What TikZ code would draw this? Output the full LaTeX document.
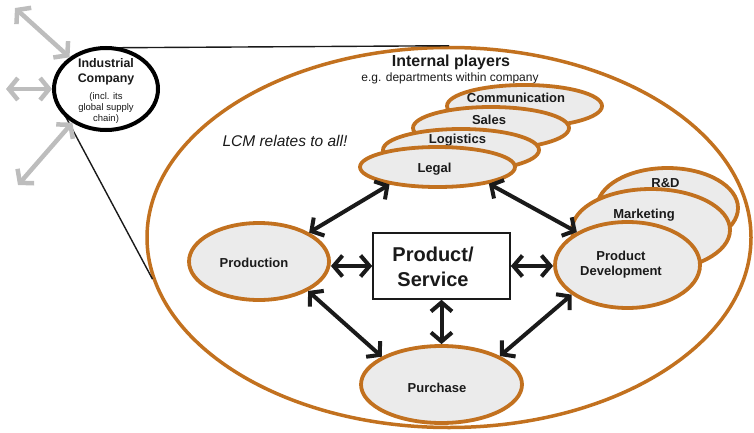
\documentclass[tikz,border=0pt]{standalone}
\usepackage{fontspec}
\setmainfont{Liberation Sans}
\usetikzlibrary{shapes.geometric,arrows.meta}
\definecolor{ora}{HTML}{C2711F}
\definecolor{lgray}{HTML}{EBEBEB}
\definecolor{agray}{HTML}{BDBDBD}
\definecolor{ink}{HTML}{1A1A1A}
\begin{document}
\begin{tikzpicture}[x=1pt,y=-1pt,
  dept/.style={ellipse, draw=ora, line width=3.8pt, fill=lgray, inner sep=0pt},
  lbl/.style={font=\fontsize{13}{15}\selectfont\bfseries, text=ink, inner sep=0pt, align=center},
  dbl/.style={{Straight Barb[length=9pt,width=21pt]}-{Straight Barb[length=9pt,width=21pt]}, line width=4pt, draw=ink},
  gbl/.style={{Straight Barb[length=9pt,width=22pt]}-{Straight Barb[length=9pt,width=22pt]}, line width=4.5pt, draw=agray},
  thin/.style={draw=ink, line width=1.4pt}
]
\useasboundingbox (0,0) rectangle (754,433);

% big ellipse
\node[ellipse, draw=ora, line width=3.5pt, inner sep=0pt, minimum width=604pt, minimum height=380pt] (internal) at (449,237.5) {};

% company
\coordinate (g1) at (15,8);
\coordinate (g2) at (6,89);
\coordinate (g3) at (18,185);
\node[ellipse, minimum width=104pt, minimum height=82pt, inner sep=0pt] (companyshape) at (106,89) {};
\draw[thin] (companyshape.north) -- (internal.north);
\draw[thin] (companyshape.210) -- (internal.188);
\node[ellipse, draw=black, line width=4pt, fill=white, minimum width=104pt, minimum height=82pt, inner sep=0pt] (company) at (106,89) {};
\node[font=\fontsize{12.4}{15}\selectfont\bfseries, text=ink, align=center, inner sep=0pt] (companytitle) at (106,71.5) {Industrial\\Company};
\node[font=\fontsize{9.5}{11.2}\selectfont, text=ink, align=center, inner sep=0pt] (companynote) at (106,108) {(incl. its\\global supply\\chain)};
\draw[gbl] (g1) -- (company.139);
\draw[gbl] (g2) -- (company.west);
\draw[gbl] (g3) -- (company.225);

% headings
\node[font=\fontsize{16}{18}\selectfont\bfseries, text=ink, inner sep=0pt] (ip) at (451,62) {Internal players};
\node[font=\fontsize{12}{14}\selectfont, text=ink, inner sep=0pt] (eg) at (450,78) {e.g. departments within company};
\node[font=\fontsize{15.5}{18}\selectfont\itshape, text=ink, inner sep=0pt] (lcm) at (285,141) {LCM relates to all!};

% top stack
\node[dept, minimum width=155pt, minimum height=42pt] (comm) at (524.5,106) {};
\node[lbl] (commt) at (516,98) {Communication};
\node[dept, minimum width=156pt, minimum height=42pt] (sales) at (491,128) {};
\node[lbl] (salest) at (489,120) {Sales};
\node[dept, minimum width=156pt, minimum height=42pt] (logi) at (461,150) {};
\node[lbl] (logit) at (457.5,140) {Logistics};
\node[dept, minimum width=155pt, minimum height=40pt] (legal) at (437.5,167) {};
\node[lbl] (legalt) at (434.5,169) {Legal};

% right stack
\node[dept, minimum width=141pt, minimum height=80pt] (rd) at (667.5,208) {};
\node[lbl] (rdt) at (665.5,183) {R\&D};
\node[dept, minimum width=158pt, minimum height=82pt] (mkt) at (651,230) {};
\node[lbl] (mktt) at (644,215) {Marketing};
\node[dept, minimum width=145pt, minimum height=86pt] (pdev) at (627.5,265) {};
\node[lbl] (pdevt) at (621,264.5) {Product\\Development};

% production, purchase
\node[dept, minimum width=140pt, minimum height=77pt] (prod) at (259,261.5) {};
\node[lbl] (prodt) at (254,263) {Production};
\node[dept, minimum width=161pt, minimum height=77pt] (purch) at (441.5,384.5) {};
\node[lbl] (purcht) at (437,388) {Purchase};

% product/service box
\node[draw=ink, line width=1.6pt, fill=white, minimum width=137pt, minimum height=66pt, inner sep=0pt] (box) at (441.5,266) {};
\node[font=\fontsize{20}{25}\selectfont\bfseries, text=ink, align=center, inner sep=0pt] (boxt) at (433,267) {Product/\\Service};

% connectors
\draw[dbl] (legal.200) -- (prod.30);
\draw[dbl] (legal.342) -- (pdev.147);
\draw[dbl] (box.west) -- (box.west -| prod.east);
\draw[dbl] (box.east) -- (box.east -| pdev.west);
\draw[dbl] (prod.329) -- (purch.155);
\draw[dbl] (box.south) -- (purch.north);
\draw[dbl] (pdev.208) -- (purch.26);
\end{tikzpicture}
\end{document}
